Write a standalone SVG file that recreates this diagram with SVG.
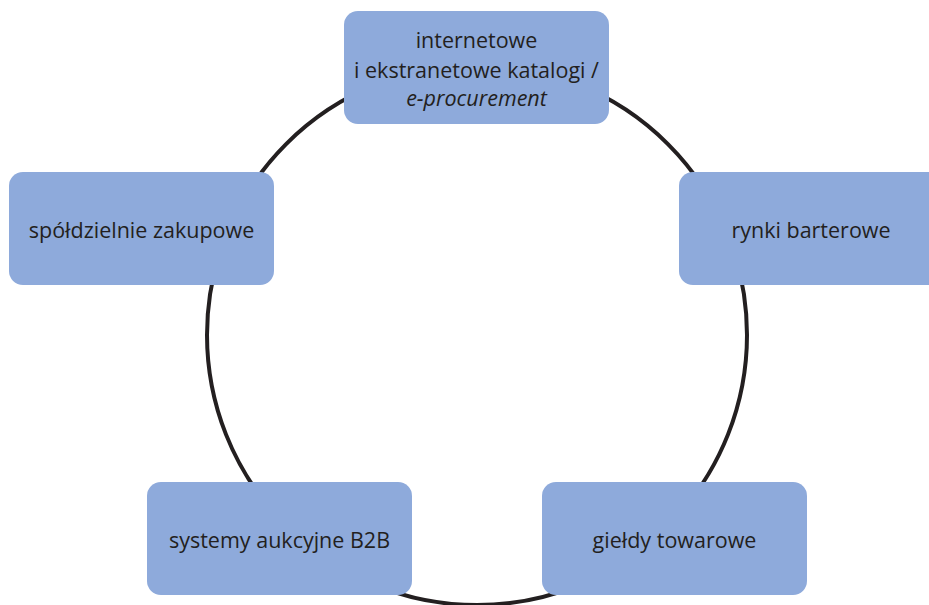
<svg xmlns="http://www.w3.org/2000/svg" width="929" height="605" viewBox="0 0 929 605">
  <style>
    .box { fill: #8eaadb; }
    .lbl { font-family: "Open Sans", "Noto Sans", "Liberation Sans", sans-serif; font-size: 21.5px; fill: #231f20; text-anchor: middle; }
    .ring { fill: none; stroke: #231f20; stroke-width: 4; }
  </style>
  <rect width="929" height="605" fill="#ffffff"/>
  <g id="connectors">
    <circle class="ring" cx="477" cy="335" r="270"/>
  </g>
  <g id="node-katalogi">
    <rect class="box" x="344" y="11" width="265" height="113" rx="14"/>
    <text class="lbl" x="476.5" y="48">internetowe</text>
    <text class="lbl" x="476.5" y="78">i ekstranetowe katalogi /</text>
    <text class="lbl" x="476.5" y="106" font-style="italic">e-procurement</text>
  </g>
  <g id="node-spoldzielnie">
    <rect class="box" x="9" y="172" width="265" height="113" rx="14"/>
    <text class="lbl" x="141.5" y="238">spółdzielnie zakupowe</text>
  </g>
  <g id="node-rynki">
    <rect class="box" x="679" y="172" width="270" height="113" rx="14"/>
    <text class="lbl" x="811" y="238">rynki barterowe</text>
  </g>
  <g id="node-aukcje">
    <rect class="box" x="147" y="482" width="265" height="113" rx="14"/>
    <text class="lbl" x="279.5" y="548">systemy aukcyjne B2B</text>
  </g>
  <g id="node-gieldy">
    <rect class="box" x="542" y="482" width="265" height="113" rx="14"/>
    <text class="lbl" x="674.5" y="548">giełdy towarowe</text>
  </g>
</svg>
